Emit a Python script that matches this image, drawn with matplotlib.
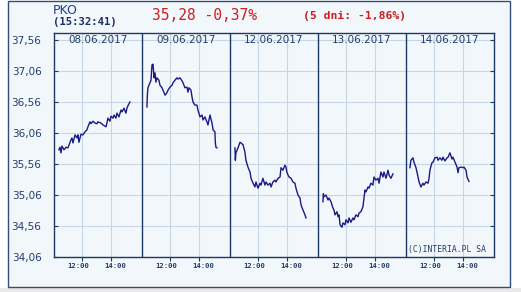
import os

os.environ.setdefault("MPLCONFIGDIR", "/tmp/matplotlib-pko")

import matplotlib

matplotlib.use("Agg")

import matplotlib.pyplot as plt
from matplotlib.patches import Rectangle
from matplotlib.transforms import blended_transform_factory, offset_copy


# quote header
TICKER = "PKO"
QUOTE_TIME = "(15:32:41)"
QUOTE_TEXT = "35,28 -0,37%"
FIVE_DAY_TEXT = "(5 dni: -1,86%)"
COPYRIGHT = "(C)INTERIA.PL SA"

DAY_LABELS = ["08.06.2017", "09.06.2017", "12.06.2017", "13.06.2017", "14.06.2017"]
HOUR_TICKS = [12, 14]
HOUR_LABELS = ["12:00", "14:00"]

Y_TICKS = [34.06, 34.56, 35.06, 35.56, 36.06, 36.56, 37.06, 37.56]
Y_TICK_LABELS = ["34,06", "34,56", "35,06", "35,56", "36,06", "36,56", "37,06", "37,56"]

# intraday prices (hour of day, price)
day1_time = [10.41, 10.48, 10.55, 10.62, 10.76, 10.90, 11.03, 11.24, 11.31, 11.38,
             11.52, 11.66, 11.72, 11.79, 11.93, 12.07, 12.21, 12.34, 12.41, 12.55,
             12.62, 12.76, 12.90, 13.03, 13.10, 13.31, 13.45, 13.66, 13.72, 13.79,
             13.93, 14.00, 14.14, 14.21, 14.34, 14.41, 14.55, 14.69, 14.76, 14.90,
             15.03, 15.10, 15.17, 15.31]
day1_price = [35.79, 35.83, 35.74, 35.85, 35.79, 35.83, 35.82, 35.95, 35.98, 35.90,
              36.03, 35.98, 36.03, 35.91, 36.04, 36.03, 36.08, 36.11, 36.16, 36.24,
              36.21, 36.25, 36.22, 36.21, 36.24, 36.22, 36.19, 36.16, 36.22, 36.30,
              36.25, 36.33, 36.30, 36.35, 36.30, 36.38, 36.32, 36.43, 36.40, 36.46,
              36.38, 36.46, 36.50, 36.56]

day2_time = [10.41, 10.44, 10.48, 10.55, 10.69, 10.76, 10.83, 10.86, 10.90, 10.97,
             11.03, 11.10, 11.24, 11.31, 11.45, 11.52, 11.66, 11.79, 11.86, 12.00,
             12.14, 12.21, 12.34, 12.48, 12.55, 12.69, 12.83, 12.90, 13.03, 13.17,
             13.24, 13.31, 13.45, 13.52, 13.59, 13.72, 13.86, 13.93, 14.07, 14.21,
             14.28, 14.41, 14.55, 14.62, 14.76, 14.90, 14.97, 15.10, 15.13, 15.17,
             15.24]
day2_price = [36.48, 36.67, 36.79, 36.83, 36.91, 37.16, 37.17, 37.08, 36.95, 37.03,
              36.88, 36.95, 36.91, 36.83, 36.79, 36.75, 36.67, 36.71, 36.75, 36.80,
              36.83, 36.87, 36.91, 36.95, 36.93, 36.95, 36.90, 36.87, 36.79, 36.80,
              36.72, 36.79, 36.75, 36.64, 36.56, 36.51, 36.51, 36.43, 36.32, 36.35,
              36.27, 36.32, 36.24, 36.19, 36.35, 36.22, 36.11, 36.08, 35.90, 35.83,
              35.82]

day3_time = [10.41, 10.44, 10.48, 10.62, 10.76, 10.83, 10.97, 11.10, 11.17, 11.31,
             11.45, 11.52, 11.66, 11.79, 11.86, 12.00, 12.14, 12.21, 12.34, 12.48,
             12.55, 12.69, 12.83, 12.90, 13.03, 13.17, 13.24, 13.38, 13.52, 13.59,
             13.72, 13.86, 13.93, 14.00, 14.14, 14.28, 14.41, 14.55, 14.62, 14.76,
             14.90, 14.97, 15.10, 15.24, 15.31]
day3_price = [35.82, 35.62, 35.74, 35.82, 35.91, 35.90, 35.87, 35.75, 35.62, 35.51,
              35.43, 35.33, 35.25, 35.19, 35.27, 35.17, 35.25, 35.22, 35.33, 35.22,
              35.27, 35.22, 35.25, 35.19, 35.27, 35.30, 35.27, 35.33, 35.35, 35.50,
              35.46, 35.54, 35.51, 35.42, 35.35, 35.33, 35.27, 35.25, 35.17, 35.06,
              35.01, 34.90, 34.82, 34.74, 34.69]

day4_time = [10.41, 10.44, 10.48, 10.62, 10.76, 10.83, 10.97, 11.10, 11.17, 11.24,
             11.38, 11.45, 11.52, 11.59, 11.72, 11.79, 11.93, 12.00, 12.14, 12.21,
             12.34, 12.48, 12.55, 12.69, 12.83, 12.90, 13.03, 13.17, 13.24, 13.31,
             13.38, 13.52, 13.59, 13.72, 13.86, 13.93, 14.07, 14.21, 14.28, 14.41,
             14.55, 14.62, 14.76, 14.90, 14.97, 15.10, 15.24]
day4_price = [34.95, 35.08, 35.03, 35.06, 34.98, 35.01, 34.95, 34.85, 34.82, 34.74,
              34.79, 34.71, 34.74, 34.58, 34.54, 34.61, 34.58, 34.66, 34.61, 34.69,
              34.62, 34.69, 34.66, 34.74, 34.71, 34.77, 34.79, 34.87, 35.01, 35.14,
              35.11, 35.19, 35.17, 35.25, 35.22, 35.35, 35.30, 35.33, 35.25, 35.43,
              35.35, 35.43, 35.33, 35.46, 35.38, 35.33, 35.40]

day5_time = [10.34, 10.41, 10.55, 10.62, 10.76, 10.90, 10.97, 11.10, 11.24, 11.31,
             11.45, 11.59, 11.66, 11.72, 11.86, 11.93, 12.07, 12.21, 12.28, 12.41,
             12.55, 12.62, 12.76, 12.90, 12.97, 13.10, 13.24, 13.31, 13.45, 13.59,
             13.66, 13.72, 13.86, 14.00, 14.07, 14.21, 14.28, 14.41]
day5_price = [35.50, 35.62, 35.66, 35.59, 35.50, 35.35, 35.27, 35.19, 35.25, 35.22,
              35.27, 35.25, 35.33, 35.46, 35.58, 35.59, 35.66, 35.67, 35.62, 35.66,
              35.62, 35.67, 35.61, 35.66, 35.67, 35.74, 35.64, 35.67, 35.59, 35.51,
              35.42, 35.50, 35.51, 35.50, 35.51, 35.46, 35.35, 35.28]

DAYS_TIME = [day1_time, day2_time, day3_time, day4_time, day5_time]
DAYS_PRICE = [day1_price, day2_price, day3_price, day4_price, day5_price]

# visible part of each session on the axis
DAY_START_HOUR = 10.07
DAY_HOURS = 6.07

NAVY = "#1c3a63"
LINE_COLOR = "#1a1a85"
GRID_COLOR = "#c6d6e6"
PANEL_COLOR = "#f2f7fb"
RED = "#cc1f1f"
TEXT_COLOR = "#223d6b"

W, H = 521, 292


def to_axis_x(day_index, hour):
    return day_index * DAY_HOURS + (hour - DAY_START_HOUR)


def main():
    fig = plt.figure(figsize=(W / 100, H / 100), dpi=100)
    fig.patch.set_facecolor("white")

    # grey strip under the panel and the panel itself (drawn below the axes)
    fig.patches.append(Rectangle((0, 0), 1, 4.5 / H, transform=fig.transFigure,
                                 facecolor="#e9e9e9", edgecolor="none", zorder=-2))
    fig.patches.append(Rectangle((7.5 / W, 5 / H), 502 / W, 286 / H, transform=fig.transFigure,
                                 facecolor=PANEL_COLOR, edgecolor="#2f4f7a", linewidth=1.0, zorder=-1))

    ax = fig.add_axes([54 / W, (H - 257) / H, 440 / W, 224 / H])
    ax.set_facecolor(PANEL_COLOR)

    n_days = len(DAY_LABELS)
    ax.set_xlim(0, n_days * DAY_HOURS)
    ax.set_ylim(34.06, 37.56 + 7 / 62)

    # horizontal grid
    ax.set_yticks(Y_TICKS)
    ax.set_yticklabels(Y_TICK_LABELS)
    for y in Y_TICKS:
        ax.axhline(y, color=GRID_COLOR, linewidth=0.8, zorder=1)

    # hour gridlines and day separators
    hour_positions = []
    for d in range(n_days):
        for hour in HOUR_TICKS:
            x = to_axis_x(d, hour)
            hour_positions.append(x)
            ax.axvline(x, color=GRID_COLOR, linewidth=0.8, zorder=1)
        if d > 0:
            ax.axvline(d * DAY_HOURS, color=NAVY, linewidth=1.0, zorder=3)

    ax.set_xticks(hour_positions)
    ax.set_xticklabels([])
    ax.tick_params(axis="x", direction="out", length=3, width=0.8, color=NAVY)
    ax.tick_params(axis="y", direction="in", length=3, width=0.8, color=NAVY,
                   right=True, labelsize=7.5, labelcolor=TEXT_COLOR, pad=9)
    for label in ax.get_yticklabels():
        label.set_fontfamily("DejaVu Sans")

    for spine in ax.spines.values():
        spine.set_color(NAVY)
        spine.set_linewidth(1.0)
        spine.set_zorder(4)

    # hour labels under each day
    bottom = blended_transform_factory(ax.transData, ax.transAxes)
    for d in range(n_days):
        for hour, text, dx in zip(HOUR_TICKS, HOUR_LABELS, [-4, 4]):
            tr = offset_copy(bottom, fig=fig, x=dx, y=-9, units="dots")
            ax.text(to_axis_x(d, hour), 0, text, transform=tr, ha="center", va="center",
                    fontsize=5.2, fontweight="bold", family="DejaVu Sans Mono",
                    color=TEXT_COLOR, clip_on=False)

    # day labels sit on the top gridline
    for d, label in enumerate(DAY_LABELS):
        ax.text((d + 0.5) * DAY_HOURS, Y_TICKS[-1], label, ha="center", va="center",
                fontsize=7.5, color=TEXT_COLOR, zorder=5)

    # price line, one segment per session
    for d in range(n_days):
        xs = [to_axis_x(d, t) for t in DAYS_TIME[d]]
        ax.plot(xs, DAYS_PRICE[d], color=LINE_COLOR, linewidth=1.0, zorder=6)

    ax.text(0.982, 0.035, COPYRIGHT, transform=ax.transAxes, ha="right", va="center",
            fontsize=5.8, family="DejaVu Sans Mono", color=TEXT_COLOR, zorder=5)

    # header
    fig.text(53 / W, 1 - 11 / H, TICKER, fontsize=9, color="#1f3f9a", va="center", ha="left")
    fig.text(53 / W, 1 - 22 / H, QUOTE_TIME, fontsize=7.6, fontweight="bold",
             family="DejaVu Sans Mono", color="#1a2f66", va="center", ha="left")
    fig.text(152 / W, 1 - 16 / H, QUOTE_TEXT, fontsize=10.5, family="DejaVu Sans Mono",
             color=RED, va="center", ha="left")
    fig.text(303 / W, 1 - 16 / H, FIVE_DAY_TEXT, fontsize=8.2, fontweight="bold",
             family="DejaVu Sans Mono", color=RED, va="center", ha="left")

    fig.savefig("out.png", dpi=100, facecolor=fig.get_facecolor())
    plt.close(fig)


if __name__ == "__main__":
    main()
